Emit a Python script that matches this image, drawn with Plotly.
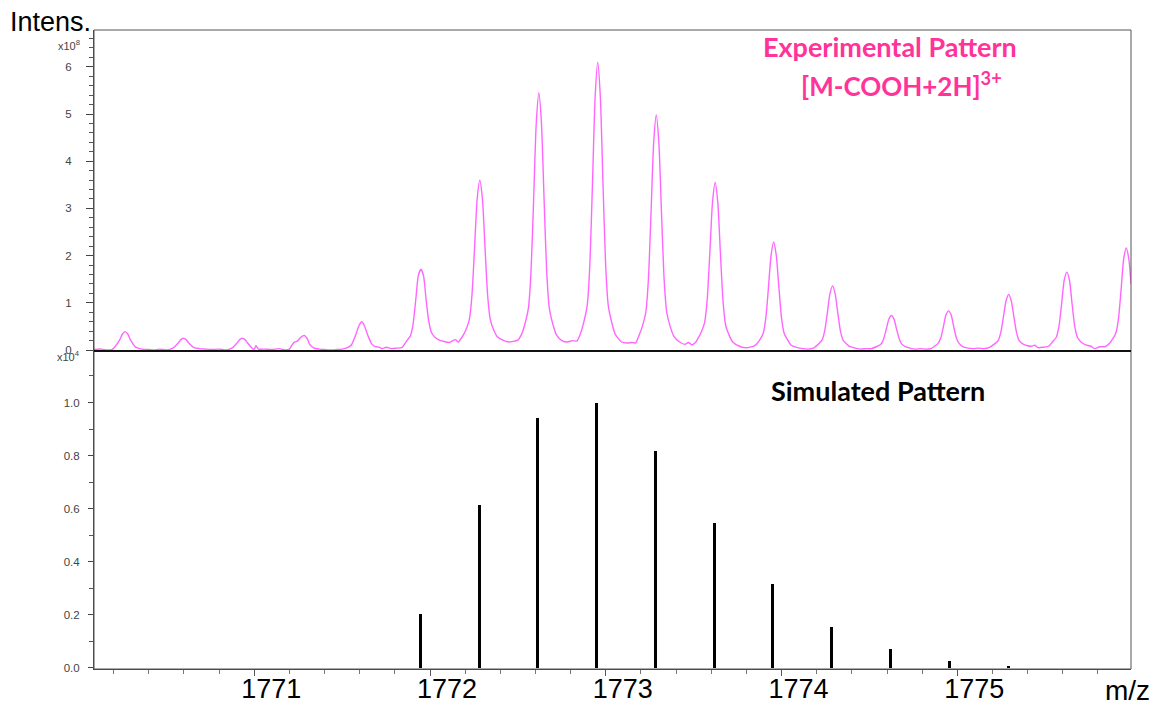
import plotly.graph_objects as go

# ---------------- data ----------------
# Experimental profile (m/z, intensity x10^8)
exp_mz = [
    1770.088, 1770.13, 1770.16, 1770.19,
    1770.205, 1770.235, 1770.250, 1770.265, 1770.280, 1770.295, 1770.325, 1770.36,
    1770.40, 1770.43, 1770.46, 1770.50,
    1770.537, 1770.567, 1770.582, 1770.597, 1770.612, 1770.627, 1770.657, 1770.69,
    1770.72, 1770.76, 1770.80, 1770.84,
    1770.872, 1770.902, 1770.917, 1770.932, 1770.947, 1770.962, 1770.985, 1770.998,
    1771.01, 1771.025, 1771.06, 1771.10, 1771.14, 1771.18,
    1771.20, 1771.225, 1771.245, 1771.265, 1771.283, 1771.30, 1771.315, 1771.34,
    1771.37, 1771.40, 1771.43, 1771.47, 1771.50,
    1771.53, 1771.551, 1771.575, 1771.596, 1771.611, 1771.626, 1771.647, 1771.67,
    1771.69, 1771.71, 1771.73, 1771.75, 1771.78, 1771.81, 1771.84,
    1771.868, 1771.888, 1771.903, 1771.918, 1771.933, 1771.948, 1771.963, 1771.978,
    1771.993, 1772.008, 1772.028, 1772.048, 1772.08, 1772.11, 1772.13, 1772.145,
    1772.16,
    1772.183, 1772.203, 1772.223, 1772.238, 1772.253, 1772.268, 1772.283, 1772.298,
    1772.313, 1772.328, 1772.343, 1772.363, 1772.383, 1772.42, 1772.45, 1772.48,
    1772.50,
    1772.519, 1772.539, 1772.559, 1772.574, 1772.589, 1772.604, 1772.619, 1772.634,
    1772.649, 1772.664, 1772.679, 1772.699, 1772.719, 1772.75, 1772.78, 1772.81,
    1772.835,
    1772.854, 1772.874, 1772.894, 1772.909, 1772.924, 1772.939, 1772.954, 1772.969,
    1772.984, 1772.999, 1773.014, 1773.034, 1773.054, 1773.09, 1773.12, 1773.15,
    1773.17,
    1773.187, 1773.207, 1773.227, 1773.242, 1773.257, 1773.272, 1773.287, 1773.302,
    1773.317, 1773.332, 1773.347, 1773.367, 1773.387, 1773.42, 1773.45, 1773.47,
    1773.49, 1773.51,
    1773.522, 1773.542, 1773.562, 1773.577, 1773.592, 1773.607, 1773.622, 1773.637,
    1773.652, 1773.667, 1773.682, 1773.702, 1773.722, 1773.76, 1773.79, 1773.82,
    1773.85,
    1773.875, 1773.895, 1773.91, 1773.925, 1773.94, 1773.955, 1773.97, 1773.985,
    1774.0, 1774.015, 1774.035, 1774.055, 1774.09, 1774.12, 1774.15, 1774.18,
    1774.21, 1774.23, 1774.245, 1774.26, 1774.275, 1774.29, 1774.305, 1774.32,
    1774.335, 1774.35, 1774.37, 1774.39, 1774.42, 1774.45, 1774.48, 1774.51,
    1774.545, 1774.565, 1774.58, 1774.595, 1774.61, 1774.625, 1774.64, 1774.655,
    1774.67, 1774.685, 1774.705, 1774.73, 1774.76, 1774.79, 1774.82, 1774.85,
    1774.87, 1774.89, 1774.905, 1774.92, 1774.935, 1774.95, 1774.965, 1774.98,
    1774.995, 1775.01, 1775.03, 1775.06, 1775.09, 1775.12, 1775.15, 1775.18,
    1775.212, 1775.232, 1775.247, 1775.262, 1775.277, 1775.292, 1775.307, 1775.322,
    1775.337, 1775.352, 1775.372, 1775.40, 1775.42, 1775.44, 1775.46, 1775.49,
    1775.52,
    1775.543, 1775.563, 1775.578, 1775.593, 1775.608, 1775.623, 1775.638, 1775.653,
    1775.668, 1775.683, 1775.703, 1775.73, 1775.76, 1775.78, 1775.81, 1775.84,
    1775.86,
    1775.881, 1775.901, 1775.916, 1775.931, 1775.946, 1775.961, 1775.976, 1775.988,
]
exp_int = [
    0.01, 0.02, 0.00, 0.01,
    0.06, 0.22, 0.34, 0.39, 0.34, 0.22, 0.06, 0.02,
    0.01, 0.00, 0.02, 0.00,
    0.04, 0.15, 0.22, 0.25, 0.22, 0.15, 0.05, 0.03,
    0.02, 0.01, 0.02, 0.00,
    0.04, 0.15, 0.22, 0.25, 0.22, 0.15, 0.05, 0.01,
    0.09, 0.02, 0.02, 0.01, 0.03, 0.00,
    0.02, 0.16, 0.19, 0.27, 0.31, 0.25, 0.12, 0.04,
    0.02, 0.01, 0.00, 0.01, 0.02,
    0.05, 0.10, 0.30, 0.52, 0.60, 0.52, 0.30, 0.12,
    0.07, 0.06, 0.03, 0.06, 0.03, 0.04, 0.05,
    0.20, 0.30, 0.54, 1.04, 1.57, 1.71, 1.57, 1.05,
    0.60, 0.37, 0.27, 0.22, 0.18, 0.16, 0.20, 0.22,
    0.17,
    0.28, 0.42, 0.64, 1.14, 2.15, 3.20, 3.60, 3.20,
    2.15, 1.14, 0.64, 0.42, 0.28, 0.20, 0.17, 0.19,
    0.21,
    0.32, 0.54, 0.87, 1.63, 3.16, 4.79, 5.45, 4.79,
    3.16, 1.63, 0.87, 0.54, 0.32, 0.20, 0.17, 0.20,
    0.19,
    0.33, 0.58, 0.94, 1.80, 3.51, 5.35, 6.10, 5.35,
    3.51, 1.80, 0.94, 0.58, 0.33, 0.17, 0.15, 0.16,
    0.15,
    0.29, 0.49, 0.79, 1.48, 2.88, 4.38, 4.98, 4.38,
    2.88, 1.48, 0.79, 0.49, 0.29, 0.17, 0.12, 0.16,
    0.11, 0.16,
    0.23, 0.37, 0.58, 1.08, 2.07, 3.13, 3.55, 3.13,
    2.05, 1.03, 0.52, 0.31, 0.17, 0.08, 0.05, 0.06,
    0.10,
    0.21, 0.35, 0.67, 1.31, 2.00, 2.29, 2.00, 1.31,
    0.67, 0.35, 0.21, 0.10, 0.05, 0.03, 0.02, 0.04,
    0.13, 0.21, 0.40, 0.78, 1.19, 1.36, 1.19, 0.78,
    0.40, 0.21, 0.13, 0.07, 0.04, 0.02, 0.03, 0.03,
    0.08, 0.12, 0.23, 0.43, 0.65, 0.73, 0.65, 0.43,
    0.23, 0.12, 0.07, 0.04, 0.02, 0.03, 0.02, 0.03,
    0.08, 0.14, 0.25, 0.48, 0.74, 0.83, 0.74, 0.48,
    0.25, 0.14, 0.07, 0.04, 0.03, 0.04, 0.03, 0.05,
    0.13, 0.20, 0.37, 0.70, 1.04, 1.18, 1.04, 0.70,
    0.37, 0.20, 0.13, 0.09, 0.08, 0.10, 0.05, 0.06,
    0.08,
    0.18, 0.27, 0.50, 0.97, 1.48, 1.65, 1.48, 0.97,
    0.50, 0.27, 0.17, 0.11, 0.08, 0.03, 0.07, 0.07,
    0.12,
    0.22, 0.35, 0.64, 1.25, 1.92, 2.16, 1.92, 1.40,
]

# Simulated isotope pattern (m/z, relative intensity x10^4)
sim_mz = [1771.944, 1772.279, 1772.613, 1772.948, 1773.282, 1773.617,
          1773.951, 1774.286, 1774.620, 1774.955, 1775.289]
sim_int = [0.203, 0.614, 0.942, 1.000, 0.817, 0.546,
           0.316, 0.154, 0.072, 0.026, 0.005]

x_tick_vals = [1771, 1772, 1773, 1774, 1775]
x_tick_text = ["1771", "1772", "1773", "1774", "1775"]
top_tick_vals = [0, 1, 2, 3, 4, 5, 6]
top_tick_text = ["0", "1", "2", "3", "4", "5", "6"]
bot_tick_vals = [0.0, 0.2, 0.4, 0.6, 0.8, 1.0]
bot_tick_text = ["0.0", "0.2", "0.4", "0.6", "0.8", "1.0"]

# ---------------- figure ----------------
W, H = 1159, 708
L, R, T, B = 94, 27.5, 30, 39
split = 0.4977

fig = go.Figure()
fig.add_trace(go.Scatter(
    x=exp_mz, y=exp_int, mode="lines", xaxis="x2", yaxis="y2",
    line=dict(color="#FF66FF", width=1.4, shape="spline", smoothing=0.6),
    hoverinfo="x+y", showlegend=False))
fig.add_trace(go.Bar(
    x=sim_mz, y=sim_int, width=0.017, marker=dict(color="black", line_width=0),
    xaxis="x", yaxis="y", showlegend=False))

axis_font = dict(family="Liberation Sans, Arial", size=11.5, color="#444444")
xrange = [1770.088, 1775.988]

fig.update_layout(
    width=W, height=H,
    margin=dict(l=L, r=R, t=T, b=B, pad=0, autoexpand=False),
    paper_bgcolor="white", plot_bgcolor="white",
    bargap=0,
    xaxis=dict(
        domain=[0, 1], range=xrange, anchor="y", automargin=False,
        tickmode="array", tickvals=x_tick_vals, ticktext=x_tick_text,
        ticks="outside", ticklen=6, tickwidth=1, tickcolor="#555555",
        ticklabelshift=17, ticklabelstandoff=-10,
        minor=dict(tickmode="linear", tick0=1770, dtick=0.2, ticks="outside",
                   ticklen=4, tickcolor="#777777", showgrid=False),
        tickfont=dict(family="Liberation Sans, Arial", size=27, color="black"),
        showline=True, linecolor="#444444", linewidth=1,
        showgrid=False, zeroline=False, fixedrange=True),
    yaxis=dict(
        domain=[0, split], range=[-0.004, 1.194], anchor="x", automargin=False,
        tickmode="array", tickvals=bot_tick_vals, ticktext=bot_tick_text,
        ticks="outside", ticklen=5, tickwidth=1, tickcolor="#444444",
        ticklabelstandoff=6,
        minor=dict(tickmode="linear", tick0=0, dtick=0.1, ticks="outside",
                   ticklen=4, tickcolor="#555555", showgrid=False),
        tickfont=axis_font,
        showline=True, linecolor="#444444", linewidth=1,
        showgrid=False, zeroline=False, fixedrange=True),
    xaxis2=dict(
        domain=[0, 1], range=xrange, anchor="y2", matches="x", automargin=False,
        showticklabels=False, ticks="", showgrid=False, zeroline=False,
        showline=False, fixedrange=True),
    yaxis2=dict(
        domain=[split, 1], range=[-0.02, 6.78], anchor="x2", automargin=False,
        tickmode="array", tickvals=top_tick_vals, ticktext=top_tick_text,
        ticks="outside", ticklen=7, tickwidth=1, tickcolor="#444444",
        ticklabelstandoff=12,
        minor=dict(tickmode="linear", tick0=0, dtick=0.2, ticks="outside",
                   ticklen=4, tickcolor="#555555", showgrid=False),
        tickfont=axis_font,
        showline=True, linecolor="#444444", linewidth=1,
        showgrid=False, zeroline=False, fixedrange=True),
    shapes=[
        dict(type="rect", xref="paper", yref="paper", x0=0, x1=1, y0=0, y1=1,
             line=dict(color="#555555", width=1), layer="above"),
        dict(type="line", xref="paper", yref="paper", x0=0, x1=1, y0=split, y1=split,
             line=dict(color="#111111", width=2), layer="above"),
    ],
)

def px_x(px):
    return (px - L) / (W - L - R)

def px_y(py):
    return (H - B - py) / (H - T - B)

annos = [
    dict(text="Intens.", x=px_x(93), y=px_y(22), xanchor="right", yanchor="middle",
         font=dict(family="Liberation Sans, Arial", size=27, color="black")),
    dict(text="x10<sup>8</sup>", x=px_x(82), y=px_y(45), xanchor="right", yanchor="middle",
         font=dict(family="Liberation Sans, Arial", size=11, color="#444444")),
    dict(text="x10<sup>4</sup>", x=px_x(82), y=px_y(356), xanchor="right", yanchor="middle",
         font=dict(family="Liberation Sans, Arial", size=11, color="#444444")),
    dict(text="m/z", x=px_x(1128), y=px_y(690), xanchor="center", yanchor="middle",
         font=dict(family="Liberation Sans, Arial", size=28, color="black")),
    dict(text="<b>Experimental Pattern</b>", x=px_x(890), y=px_y(46),
         xanchor="center", yanchor="middle",
         font=dict(family="Lato, Open Sans", size=27, color="#FF3399")),
    dict(text="<b>[M-COOH+2H]<sup>3+</sup></b>", x=px_x(902), y=px_y(84),
         xanchor="center", yanchor="middle",
         font=dict(family="Lato, Open Sans", size=26, color="#FF3399")),
    dict(text="<b>Simulated Pattern</b>", x=px_x(878), y=px_y(390),
         xanchor="center", yanchor="middle",
         font=dict(family="Lato, Open Sans", size=27, color="black")),
]
for a in annos:
    a.update(xref="paper", yref="paper", showarrow=False)
fig.update_layout(annotations=annos)

fig.write_html("out.html")
